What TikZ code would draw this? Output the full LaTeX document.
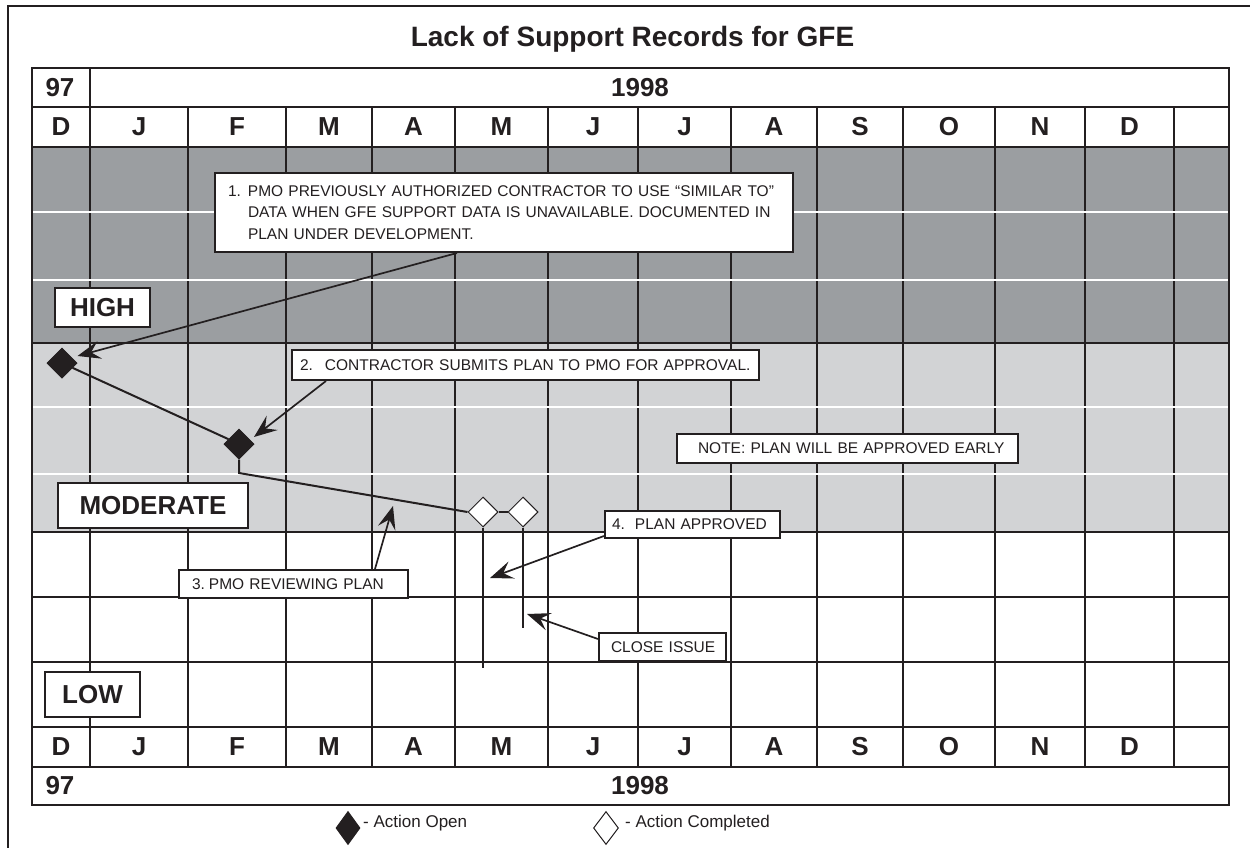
\documentclass[tikz,border=0pt]{standalone}
\usepackage{fontspec}
\setmainfont{Liberation Sans}
\usetikzlibrary{arrows.meta,shapes.geometric,calc}
\definecolor{darkband}{RGB}{155,158,161}
\definecolor{lightband}{RGB}{210,211,213}
\definecolor{ink}{RGB}{35,31,32}
\begin{document}
\begin{tikzpicture}[x=1pt,y=-1pt,
  gridline/.style={draw=ink,line width=2.2pt},
  whiteline/.style={draw=white,line width=2pt},
  frameline/.style={draw=ink,line width=2.2pt},
  hdr/.style={inner sep=0pt,text=ink,font={\fontsize{26}{30}\selectfont\bfseries}},
  levelbox/.style={draw=ink,line width=2.4pt,fill=white,inner sep=0pt,text=ink,
     font={\fontsize{26}{30}\selectfont\bfseries}},
  callout/.style={draw=ink,line width=2pt,fill=white,align=left,text=ink,
     inner ysep=0pt,font={\fontsize{15.5}{21.5}\selectfont}},
  filldiam/.style={shape=diamond,draw=ink,fill=ink,line width=1pt,inner sep=0pt,
     minimum width=30pt,minimum height=30pt},
  opendiam/.style={shape=diamond,draw=ink,fill=white,line width=1pt,inner sep=0pt,
     minimum width=30pt,minimum height=30pt},
  conn/.style={draw=ink,line width=2pt},
  arr/.style={draw=ink,line width=1.7pt,-{Stealth[length=23pt,width=18pt,inset=9pt]}},
  legtext/.style={inner sep=0pt,text=ink,font={\fontsize{17}{20}\selectfont}}
]
\useasboundingbox (0,0) rectangle (1250,848);
% outer frame
\draw[frameline] (8,870) -- (8,6) -- (1270,6);
% title
\node[inner sep=0pt,anchor=base,text=ink,font={\fontsize{28}{32}\selectfont\bfseries}] (title) at (632.5,47) {Lack of Support Records for GFE};
% bands
\fill[darkband] (32,147) rectangle (1229,343);
\fill[lightband] (32,343) rectangle (1229,532);
% grid
\foreach \x in {188,286,372,455,548,638,731,817,903,995,1085,1174}
  \draw[gridline] (\x,107) -- (\x,767);
\draw[gridline] (90,68) -- (90,767);
\foreach \y in {107,147,343,532,597,662,727,767}
  \draw[gridline] (32,\y) -- (1229,\y);
\foreach \y in {212,280,407,474}
  \draw[whiteline] (33.2,\y) -- (1227.8,\y);
\draw[gridline] (32,68) rectangle (1229,805);
% headers
\node[hdr] (ytop97) at (60,87.5) {97};
\node[hdr] (ytop98) at (640,87.5) {1998};
\node[hdr] (ybot97) at (60,786) {97};
\node[hdr] (ybot98) at (640,786) {1998};
\foreach \m/\x [count=\i] in {D/61,J/139,F/237,M/329,A/413.5,M/501.5,J/593,J/684.5,A/774,S/860,O/949,N/1040,D/1129.5}{
  \node[hdr] (mt\i) at (\x,127) {\m};
  \node[hdr] (mb\i) at (\x,747) {\m};
}
% level labels
\node[levelbox,minimum width=95pt,minimum height=39pt] (high) at (102.5,307.5) {HIGH};
\node[levelbox,minimum width=190pt,minimum height=45pt] (moderate) at (153,505.5) {MODERATE};
\node[levelbox,minimum width=95pt,minimum height=45pt] (low) at (92.5,694.5) {LOW};
% milestones
\node[filldiam] (d1) at (62,363) {};
\node[filldiam] (d2) at (239,444) {};
\node[opendiam] (c1) at (483,512) {};
\node[opendiam] (c2) at (523,512) {};
\coordinate (k1) at (239,473);
\coordinate (e1) at (483,668);
\coordinate (e2) at (523,628);
\draw[conn] (d1) -- (d2);
\draw[conn] (d2.south) -- (k1) -- (c1.west);
\draw[conn] (c1.east) -- (c2.west);
\draw[conn] (c1.south) -- (e1);
\draw[conn] (c2.south) -- (e2);
% callouts
\node[callout,minimum width=578pt,minimum height=79pt,text width=552pt,inner xsep=13pt] (n1) at (504,212.5)
  {\makebox[20pt][l]{1.}PMO PREVIOUSLY AUTHORIZED CONTRACTOR TO USE “SIMILAR TO”\\
   \hspace*{20pt}DATA WHEN GFE SUPPORT DATA IS UNAVAILABLE. DOCUMENTED IN\\
   \hspace*{20pt}PLAN UNDER DEVELOPMENT.};
\node[callout,minimum width=467pt,minimum height=30pt,text width=451pt,inner xsep=8pt] (n2) at (525.5,365)
  {\makebox[\linewidth][l]{\makebox[25pt][l]{2.}CONTRACTOR SUBMITS PLAN TO PMO FOR APPROVAL.}};
\node[callout,minimum width=229pt,minimum height=28pt,text width=203pt,inner xsep=13pt] (n3) at (293.5,584)
  {\makebox[\linewidth][l]{\makebox[17pt][l]{3.}PMO REVIEWING PLAN}};
\node[callout,minimum width=175pt,minimum height=27pt,text width=161pt,inner xsep=7pt] (n4) at (692.5,524.5)
  {\makebox[\linewidth][l]{\makebox[23pt][l]{4.}PLAN APPROVED}};
\node[callout,minimum width=127pt,minimum height=28pt,text width=103pt,inner xsep=12pt] (n5) at (662.5,647)
  {\makebox[\linewidth][l]{CLOSE ISSUE}};
\node[callout,minimum width=341pt,minimum height=29pt,text width=299pt,inner xsep=21pt] (note) at (847.5,448.5)
  {\makebox[\linewidth][l]{NOTE: PLAN WILL BE APPROVED EARLY}};
% arrows
\coordinate (t3) at (393,506);
\coordinate (t4) at (490,578);
\coordinate (t5) at (527,614);
\draw[arr] ([xshift=-47pt]n1.south) -- ([yshift=7pt]d1.east);
\draw[arr] ([xshift=35pt]n2.south west) -- ([xshift=15pt,yshift=7pt]d2.center);
\draw[arr] ([xshift=197pt]n3.north west) -- (t3);
\draw[arr] ([yshift=3pt]n4.south west) -- (t4);
\draw[arr] ([yshift=-7pt]n5.north west) -- (t5);
% legend
\node[filldiam,minimum width=24pt,minimum height=33pt] (lg1) at (348,828) {};
\node[legtext,anchor=base west] (lt1) at (363,827) {- Action Open};
\node[opendiam,minimum width=25pt,minimum height=33pt] (lg2) at (606,828) {};
\node[legtext,anchor=base west] (lt2) at (625,827) {- Action Completed};
\end{tikzpicture}
\end{document}
